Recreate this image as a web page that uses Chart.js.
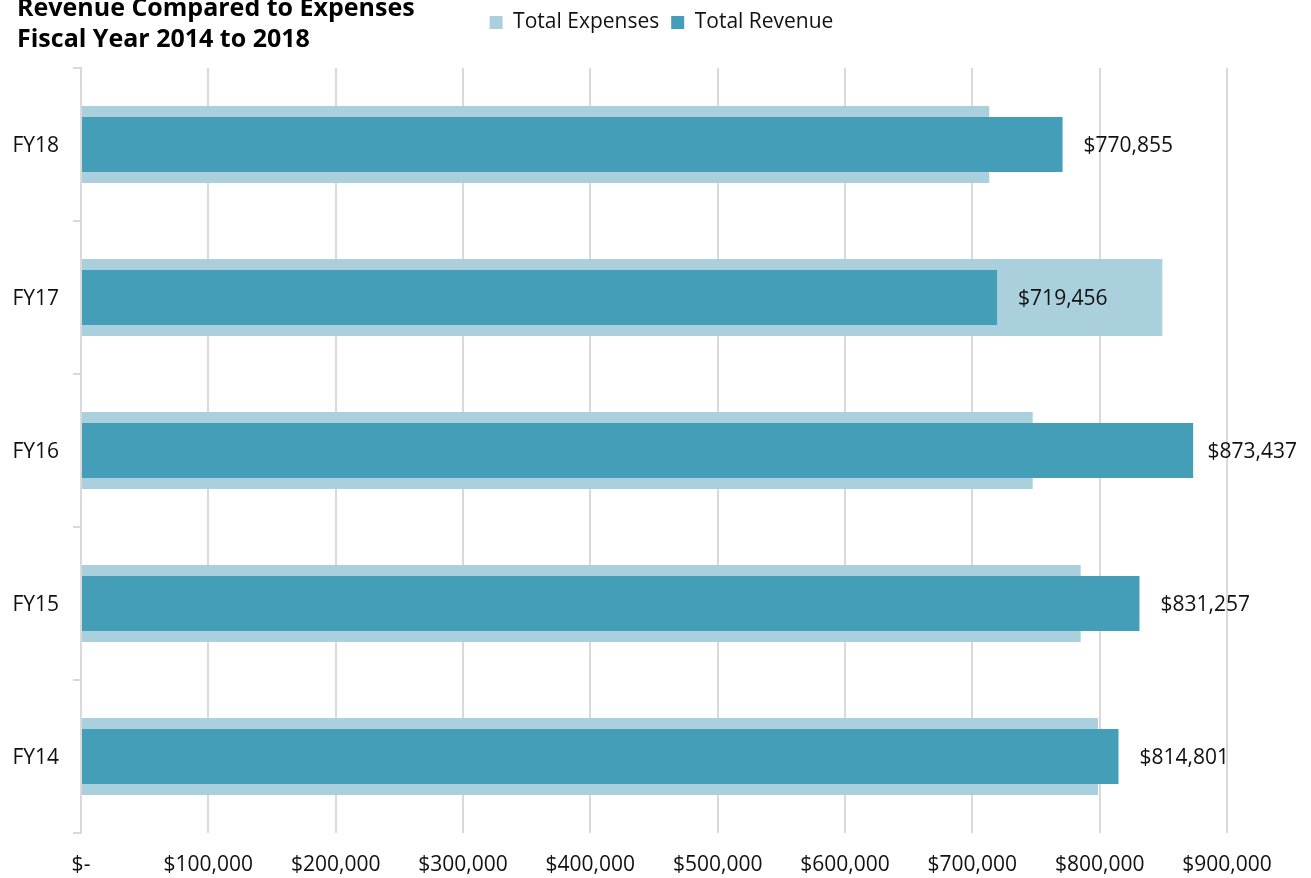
<!DOCTYPE html>
<html>
<head>
<meta charset="utf-8">
<script src="https://cdn.jsdelivr.net/npm/chart.js@4"></script>
<style>
    body { margin: 0; background: #fff; }
    #wrap { position: relative; width: 1311px; height: 878px; overflow: hidden; }
    #title {
        position: absolute; left: 17px; top: -9px;
        font: bold 25px 'Open Sans', sans-serif; line-height: 31px; color: #000;
    }
</style>
</head>
<body>
<div id="wrap">
    <canvas id="graph"></canvas>
    <div id="title">Revenue Compared to Expenses<br>Fiscal Year 2014 to 2018</div>
</div>
<script>
const categories = ['FY18', 'FY17', 'FY16', 'FY15', 'FY14'];
const totalRevenue = [770855, 719456, 873437, 831257, 814801];
const totalExpenses = [713300, 849200, 747400, 785100, 798700];
const xMin = 0;
const xMax = 900000;
const xStep = 100000;

const textColor = '#111';
const gridColor = '#d9d9d9';
const fontFamily = "'Open Sans', sans-serif";

function money(v) {
    if (v === 0) return '$-';
    return '$' + v.toLocaleString('en-US');
}

// legend row takes the band above the plot, nudged a bit right
const legendSpace = {
    id: 'legendSpace',
    beforeInit(chart) {
        const origFit = chart.legend.fit;
        chart.legend.fit = function () {
            origFit.call(this);
            this.height = 68;
        };
    },
    afterLayout(chart) {
        chart.legend.left += 6;
        chart.legend.right += 6;
    }
};

// value labels to the right of the revenue bars
const barLabels = {
    id: 'barLabels',
    afterDatasetsDraw(chart) {
        const ctx = chart.ctx;
        const meta = chart.getDatasetMeta(0);
        ctx.save();
        ctx.font = '21px ' + fontFamily;
        ctx.fillStyle = textColor;
        ctx.textBaseline = 'middle';
        meta.data.forEach((bar, i) => {
            const txt = money(totalRevenue[i]);
            const w = ctx.measureText(txt).width;
            let x = bar.x + 21;
            if (x + w > chart.width - 14) x = chart.width - 14 - w;
            ctx.fillText(txt, x, bar.y + 2);
        });
        ctx.restore();
    }
};

window.addEventListener('DOMContentLoaded', on_load);

function on_load() {
    const graph = document.getElementById('graph');
    new Chart(graph, {
        type: 'bar',
        data: {
            labels: categories,
            datasets: [
                {
                    label: 'Total Revenue',
                    data: totalRevenue,
                    backgroundColor: '#459eb7',
                    grouped: false,
                    categoryPercentage: 1,
                    barPercentage: 0.36
                },
                {
                    label: 'Total Expenses',
                    data: totalExpenses,
                    backgroundColor: '#aacfdd',
                    grouped: false,
                    categoryPercentage: 1,
                    barPercentage: 0.503
                }
            ]
        },
        options: {
            indexAxis: 'y',
            responsive: true,
            maintainAspectRatio: false,
            animation: false,
            layout: {padding: 0},
            plugins: {
                legend: {
                    position: 'top',
                    reverse: true,
                    labels: {
                        boxWidth: 13,
                        boxHeight: 13,
                        padding: 12,
                        color: textColor,
                        font: {family: fontFamily, size: 21}
                    }
                },
                tooltip: {enabled: false}
            },
            scales: {
                x: {
                    min: xMin,
                    max: xMax,
                    afterFit: (scale) => {
                        scale.height = 45;
                        scale.paddingLeft = 0;
                        scale.paddingRight = 84;
                    },
                    ticks: {
                        stepSize: xStep,
                        color: textColor,
                        padding: 19,
                        font: {family: fontFamily, size: 21},
                        callback: (v) => money(v)
                    },
                    grid: {color: gridColor, lineWidth: 2, tickLength: 0},
                    border: {display: false}
                },
                y: {
                    afterFit: (scale) => {
                        scale.width = 81;
                    },
                    ticks: {
                        color: textColor,
                        padding: 14,
                        labelOffset: 2,
                        font: {family: fontFamily, size: 21}
                    },
                    grid: {
                        offset: true,
                        drawOnChartArea: false,
                        color: gridColor,
                        lineWidth: 2,
                        tickLength: 8
                    },
                    border: {display: true, color: gridColor, width: 2}
                }
            }
        },
        plugins: [legendSpace, barLabels]
    });
}
</script>
</body>
</html>
